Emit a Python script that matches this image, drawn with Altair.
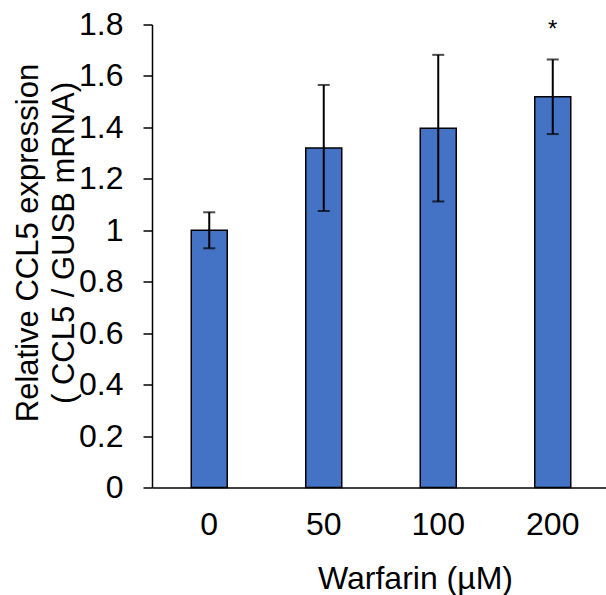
import altair as alt
import pandas as pd

doses = ["0", "50", "100", "200"]
means = [1.0, 1.32, 1.397, 1.519]
sds = [0.07, 0.245, 0.285, 0.145]
sig = ["", "", "", "*"]
y_ticks = [0, 0.2, 0.4, 0.6, 0.8, 1.0, 1.2, 1.4, 1.6, 1.8]

df = pd.DataFrame({
    "dose": doses,
    "mean": means,
    "lo": [m - s for m, s in zip(means, sds)],
    "hi": [m + s for m, s in zip(means, sds)],
    "sig": sig,
})

FONT = "Liberation Sans"

x_scale = alt.Scale(paddingInner=0.0, paddingOuter=0.0, range=[0, 458])

x = alt.X(
    "dose:N",
    sort=doses,
    scale=x_scale,
    axis=alt.Axis(
        title="Warfarin (µM)",
        labelAngle=0,
        ticks=False,
        tickSize=0,
        labelPadding=22,
        labelFontSize=32,
        labelFont=FONT,
        labelColor="black",
        titleFontSize=32,
        titleFont=FONT,
        titleFontWeight="normal",
        titleColor="black",
        titleX=263,
        titleY=101,
        titleBaseline="alphabetic",
        domainColor="black",
        domainWidth=1.5,
    ),
)

y_scale = alt.Scale(domain=[0, 1.8], nice=False, zero=True)

bars = alt.Chart(df).mark_bar(
    size=36, color="#4472C4", stroke="black", strokeWidth=1.5
).encode(
    x=x,
    y=alt.Y(
        "mean:Q",
        scale=y_scale,
        axis=alt.Axis(
            values=y_ticks,
            format=".1~f",
            grid=False,
            tickSize=9,
            tickColor="black",
            tickWidth=1.5,
            domainColor="black",
            domainWidth=1.5,
            labelPadding=20,
            labelFontSize=32,
            labelFont=FONT,
            labelColor="black",
            title=["Relative CCL5  expression", "( CCL5 / GUSB mRNA)"],
            titleFontSize=31,
            titleFont=FONT,
            titleFontWeight="normal",
            titleColor="black",
            titleLineHeight=36,
            titleBaseline="alphabetic",
            titleX=-115,
            titleY=218,
            titleAlign="center",
            titleAngle=270,
        ),
    ),
)

rules = alt.Chart(df).mark_rule(color="black", strokeWidth=2).encode(
    x=alt.X("dose:N", sort=doses, scale=x_scale),
    y=alt.Y("lo:Q", scale=y_scale),
    y2="hi:Q",
)

caps_hi = alt.Chart(df).mark_tick(color="black", size=12, thickness=2).encode(
    x=alt.X("dose:N", sort=doses, scale=x_scale),
    y=alt.Y("hi:Q", scale=y_scale),
)
caps_lo = alt.Chart(df).mark_tick(color="black", size=12, thickness=2).encode(
    x=alt.X("dose:N", sort=doses, scale=x_scale),
    y=alt.Y("lo:Q", scale=y_scale),
)

stars = alt.Chart(df).mark_text(
    fontSize=24, font=FONT, color="black", baseline="alphabetic", dy=-22
).encode(
    x=alt.X("dose:N", sort=doses, scale=x_scale),
    y=alt.Y("hi:Q", scale=y_scale),
    text="sig:N",
)

chart = alt.layer(bars, rules, caps_hi, caps_lo, stars).properties(
    width=454,
    height=463,
    autosize=alt.AutoSizeParams(type="none"),
    padding={"left": 152, "top": 24.5, "right": 0, "bottom": 107.5},
    background="white",
).configure_view(stroke=None)

chart.save("out.html", embed_options={"renderer": "svg", "actions": False})
